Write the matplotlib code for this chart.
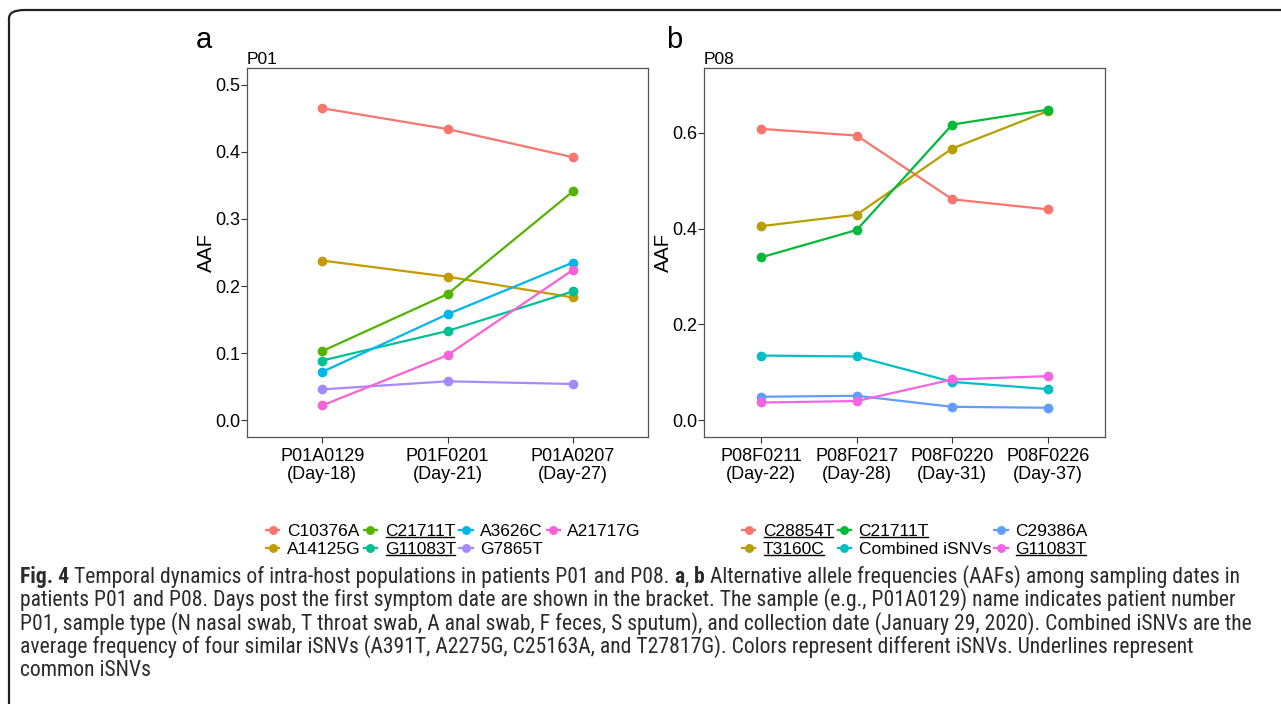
import matplotlib
matplotlib.use("Agg")
import matplotlib.pyplot as plt
from matplotlib import font_manager
from matplotlib.lines import Line2D
from matplotlib.patches import FancyBboxPatch

# ---- data ----
p01_samples = ["P01A0129\n(Day-18)", "P01F0201\n(Day-21)", "P01A0207\n(Day-27)"]
p01_snvs = ["C10376A", "A14125G", "C21711T", "G11083T", "A3626C", "G7865T", "A21717G"]
p01_colors = ["#F8766D", "#C49A00", "#53B400", "#00C094", "#00B6EB", "#A58AFF", "#FB61D7"]
p01_values = [
    [0.465, 0.434, 0.392],   # C10376A
    [0.238, 0.214, 0.183],   # A14125G
    [0.103, 0.188, 0.341],   # C21711T
    [0.089, 0.133, 0.192],   # G11083T
    [0.072, 0.158, 0.235],   # A3626C
    [0.046, 0.058, 0.054],   # G7865T
    [0.022, 0.097, 0.224],   # A21717G
]
p01_common = ["C21711T", "G11083T"]

p08_samples = ["P08F0211\n(Day-22)", "P08F0217\n(Day-28)", "P08F0220\n(Day-31)", "P08F0226\n(Day-37)"]
p08_snvs = ["C28854T", "T3160C", "C21711T", "Combined iSNVs", "C29386A", "G11083T"]
p08_colors = ["#F8766D", "#B79F00", "#00BA38", "#00BFC4", "#619CFF", "#F564E3"]
p08_values = [
    [0.608, 0.594, 0.461, 0.440],   # C28854T
    [0.405, 0.429, 0.567, 0.645],   # T3160C
    [0.340, 0.397, 0.617, 0.648],   # C21711T
    [0.135, 0.133, 0.080, 0.065],   # Combined iSNVs
    [0.049, 0.051, 0.028, 0.026],   # C29386A
    [0.037, 0.040, 0.085, 0.092],   # G11083T
]
p08_common = ["C28854T", "T3160C", "C21711T", "G11083T"]

caption_lines = [
    [("Fig. 4", "bold"), (" Temporal dynamics of intra-host populations in patients P01 and P08. ", "normal"),
     ("a", "bold"), (", ", "normal"), ("b", "bold"),
     (" Alternative allele frequencies (AAFs) among sampling dates in", "normal")],
    [("patients P01 and P08. Days post the first symptom date are shown in the bracket. The sample (e.g., P01A0129) name indicates patient number", "normal")],
    [("P01, sample type (N nasal swab, T throat swab, A anal swab, F feces, S sputum), and collection date (January 29, 2020). Combined iSNVs are the", "normal")],
    [("average frequency of four similar iSNVs (A391T, A2275G, C25163A, and T27817G). Colors represent different iSNVs. Underlines represent", "normal")],
    [("common iSNVs", "normal")],
]

W, H = 1281, 704
plt.rcParams["font.family"] = ["Liberation Sans", "DejaVu Sans"]

# caption font: a narrow face if one is around
cap_family, cap_stretch = ["DejaVu Sans"], "condensed"
for fam in ["Liberation Sans Narrow", "Roboto Condensed", "Open Sans Condensed"]:
    try:
        font_manager.findfont(fam, fallback_to_default=False)
        cap_family, cap_stretch = [fam], "normal"
        break
    except Exception:
        pass

fig = plt.figure(figsize=(W / 100, H / 100), dpi=100)


def px(x0, y0, x1, y1):
    # pixel box (top-left origin) -> figure fraction rect
    return [x0 / W, 1 - y1 / H, (x1 - x0) / W, (y1 - y0) / H]


def panel(rect, samples, snvs, colors, values, ylim, yticks, title, letter, letter_x, legend_xy, ncol):
    ax = fig.add_axes(px(*rect))
    x = list(range(len(samples)))
    for name, col, vals in zip(snvs, colors, values):
        ax.plot(x, vals, color=col, lw=1.6, marker="o", ms=6, label=name)
    ax.set_xlim(-0.6, len(samples) - 0.4)
    ax.set_ylim(*ylim)
    ax.set_yticks(yticks)
    ax.set_yticklabels([f"{t:.1f}" for t in yticks])
    ax.set_xticks(x)
    ax.set_xticklabels(samples, linespacing=1.05)
    ax.tick_params(labelsize=13, length=4, width=0.8, color="#333333", pad=1, labelcolor="black")
    ax.tick_params(axis="x", pad=4)
    for s in ax.spines.values():
        s.set_color("#555555")
        s.set_linewidth(0.9)
    ax.set_ylabel("AAF", fontsize=14.5, labelpad=-1)
    ax.set_title(title, loc="left", fontsize=12.5, pad=3)
    fig.text(letter_x / W, 1 - 40 / H, letter, fontsize=21, va="center")
    leg = ax.legend(loc="upper left", bbox_to_anchor=(legend_xy[0] / W, 1 - legend_xy[1] / H),
                    bbox_transform=fig.transFigure, ncol=ncol,
                    frameon=False, fontsize=12.5, handlelength=0.75, handletextpad=0.45,
                    columnspacing=0.2, labelspacing=0.18, borderpad=0, borderaxespad=0,
                    markerscale=0.9)
    return ax, leg


ax_a, leg_a = panel((247, 68, 648, 437), p01_samples, p01_snvs, p01_colors, p01_values,
                    (-0.025, 0.525), [0.0, 0.1, 0.2, 0.3, 0.4, 0.5], "P01", "a", 196,
                    (266, 524), 4)
ax_b, leg_b = panel((704, 68, 1105, 437), p08_samples, p08_snvs, p08_colors, p08_values,
                    (-0.035, 0.735), [0.0, 0.2, 0.4, 0.6], "P08", "b", 666,
                    (742, 524), 3)

# rounded frame around the figure
fig.patches.append(FancyBboxPatch((9 / W, -0.2), 1.2, 1.2 - 10 / H,
                                  boxstyle="round,pad=0,rounding_size=0.012",
                                  transform=fig.transFigure, fill=False,
                                  edgecolor="#222222", lw=1.6))

# caption, built piece by piece so bold parts sit inline
fig.canvas.draw()
renderer = fig.canvas.get_renderer()

# size the caption so the third line spans the same width as in the figure
probe = fig.text(0, 0, caption_lines[2][0][0], fontsize=10, family=cap_family,
                 fontstretch=cap_stretch)
cap_size = 10 * 1228 / probe.get_window_extent(renderer).width
probe.remove()

baselines = [583, 606, 630, 653, 676]
for line, yb in zip(caption_lines, baselines):
    xpos = 20
    for txt, weight in line:
        t = fig.text(xpos / W, 1 - yb / H, txt, fontsize=cap_size, fontweight=weight,
                     family=cap_family, fontstretch=cap_stretch, color="#2b2b2b",
                     va="baseline", ha="left")
        xpos += t.get_window_extent(renderer).width

# underline the common iSNVs in the legends
for leg, common in [(leg_a, p01_common), (leg_b, p08_common)]:
    for t in leg.get_texts():
        if t.get_text() in common:
            bb = t.get_window_extent(renderer)
            y = bb.y0 + 2.0
            fig.add_artist(Line2D([(bb.x0 + 1) / W, (bb.x1 - 1) / W], [y / H, y / H],
                                  transform=fig.transFigure, color="black", lw=1.0))

fig.savefig("out.png", dpi=100)
